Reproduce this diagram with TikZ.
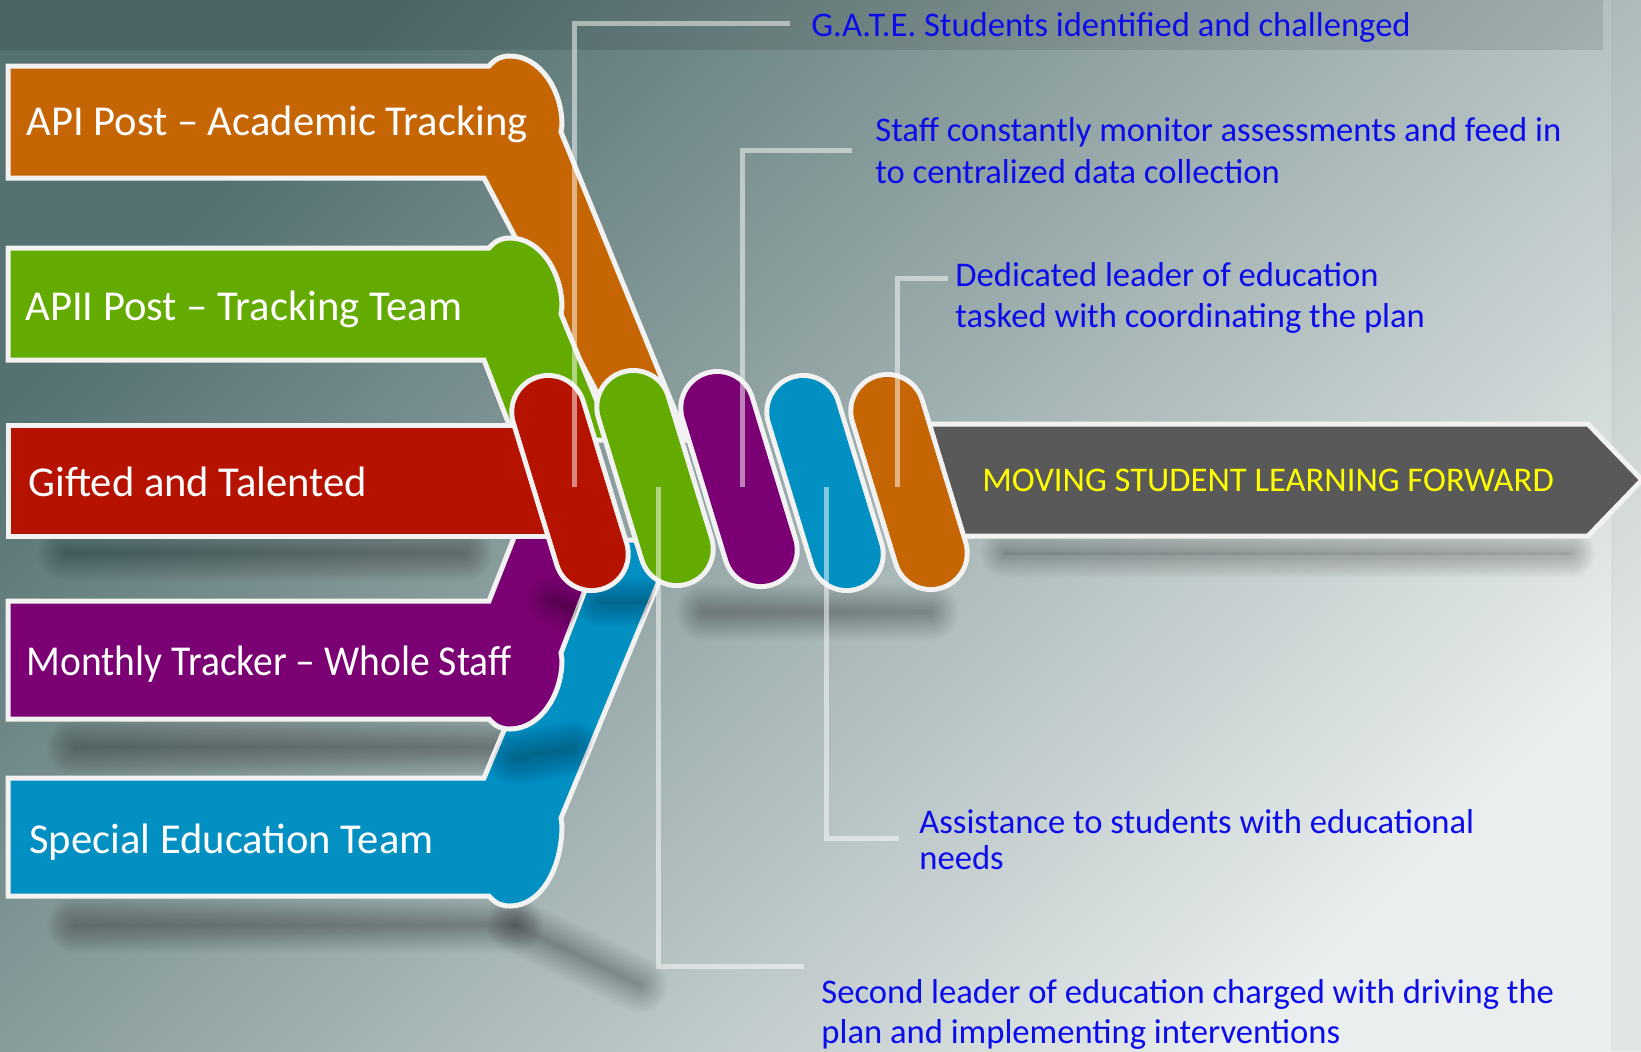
\documentclass[tikz,border=0pt]{standalone}
\usepackage{fontspec}
\usepackage{graphicx}
\setmainfont{Carlito}
\definecolor{cOrange}{RGB}{197,101,4}
\definecolor{cGreen}{RGB}{99,171,0}
\definecolor{cRed}{RGB}{181,18,0}
\definecolor{cPurple}{RGB}{123,0,115}
\definecolor{cBlue}{RGB}{2,143,194}
\definecolor{cArrow}{RGB}{89,89,89}
\definecolor{cCall}{RGB}{12,12,235}
\definecolor{cBorder}{RGB}{242,242,242}
\definecolor{cYellow}{RGB}{255,255,0}
\definecolor{bgA}{RGB}{84,112,112}
\definecolor{bgB}{RGB}{150,166,166}
\definecolor{bgC}{RGB}{234,238,238}
\newcommand\drawcapsule[4]{%
  \coordinate (#1t) at ({#2-21.7},{#3-71});
  \coordinate (#1b) at ({#2+21.7},{#3+71});
  \draw[cBorder, line width=39pt, line cap=round] (#1t) -- (#1b);
  \draw[#4, line width=34pt, line cap=round] (#1t) -- (#1b);
}
\newcommand\softline[5]{%
  \foreach \k in {0,...,17}{%
    \pgfmathsetmacro\lw{max(#5+30-\k*3.2,3)*0.5}
    \draw[black, opacity=0.015, line width=\lw pt, line cap=round] (#1,#2) -- (#3,#4);
  }}
\def\orangepath{(8,66) -- (489,66) .. controls (496,58) and (502,56) .. (510,56) .. controls (540,56) and (562,90) .. (562,125) -- (561,132) -- (687,440) -- (622,440) -- (484,178) -- (8,178) -- cycle}
\def\greenpath{(8,248) -- (489,248) .. controls (496,240) and (502,238) .. (510,238) .. controls (540,238) and (562,272) .. (562,307) -- (561,314) -- (613,440) -- (515,440) -- (484,360) -- (8,360) -- cycle}
\def\bluepath{(8,778) -- (484,778) -- (584,540) -- (676,540) -- (561,818) -- (562,825) .. controls (562,870) and (540,906) .. (510,906) .. controls (502,906) and (496,904) .. (489,896) -- (8,896) -- cycle}
\def\purplepath{(8,601) -- (489,601) -- (517,530) -- (608,530) -- (561,653) -- (562,660) .. controls (562,695) and (540,729) .. (510,729) .. controls (502,729) and (496,727) .. (489,719) -- (8,719) -- cycle}
\tikzset{
  ribbon/.style={fill=#1, draw=cBorder, line width=2.5pt},
  bartext/.style={anchor=base west, inner sep=0pt, text=white, font=\fontsize{21.3}{25}\selectfont},
  calltext/.style={anchor=base west, inner sep=0pt, text=cCall, font=\fontsize{17.3}{20}\selectfont},
  arrowtext/.style={anchor=base, inner sep=0pt, text=cYellow, font=\fontsize{17.3}{20}\selectfont},
  leader/.style={draw=white, draw opacity=0.5, line width=2.5pt},
}
\begin{document}
\begin{tikzpicture}[x=0.5pt,y=-0.5pt]
\useasboundingbox (0,0) rectangle (1641,1051);
% background
\shade[shading=axis, top color=bgA, middle color=bgB, bottom color=bgC, shading angle=45] (0,0) rectangle (1641,1051);
\fill[black, opacity=0.1] (0,0) rectangle (1603,50);
\fill[black, opacity=0.04] (1611,0) rectangle (1641,1051);
% shadows
\softline{65}{553}{465}{553}{26}
\softline{75}{747}{525}{747}{26}
\softline{75}{925}{515}{925}{26}
\softline{515}{925}{640}{985}{26}
\softline{1005}{553}{1570}{553}{20}
\softline{705}{612}{930}{612}{28}
% ribbons
\path[ribbon=cOrange] \orangepath;
\path[ribbon=cGreen] \greenpath;
\path[ribbon=cBlue] \bluepath;
\begin{scope}
  \clip \bluepath;
  \softline{515}{758}{572}{748}{26}
  \softline{600}{602}{650}{602}{20}
\end{scope}
\path[ribbon=cPurple] \purplepath;
\begin{scope}
  \clip \purplepath;
  \softline{552}{600}{580}{612}{22}
\end{scope}
\path[ribbon=cRed] (8,425) rectangle (565,536);
% arrow
\path[ribbon=cArrow] (905,424) -- (1588,424) -- (1642,480) -- (1588,536) -- (905,536) -- cycle;
% coil
\drawcapsule{cr}{570}{483}{cRed}
\drawcapsule{cg}{655}{478}{cGreen}
\drawcapsule{cp}{739}{479}{cPurple}
\drawcapsule{cb}{825}{483}{cBlue}
\drawcapsule{co}{909}{482}{cOrange}
% leader lines
\coordinate (gA) at (574,487); \coordinate (gB) at (574,23); \coordinate (gC) at (790,23);
\coordinate (sA) at (742,487); \coordinate (sB) at (742,150); \coordinate (sC) at (852,150);
\coordinate (dA) at (897,487); \coordinate (dB) at (897,278); \coordinate (dC) at (948,278);
\coordinate (aA) at (826,487); \coordinate (aB) at (826,838); \coordinate (aC) at (899,838);
\coordinate (lA) at (658,487); \coordinate (lB) at (658,966); \coordinate (lC) at (804,966);
\draw[leader] (gA) -- (gB) -- (gC);
\draw[leader] (sA) -- (sB) -- (sC);
\draw[leader] (dA) -- (dB) -- (dC);
\draw[leader] (aA) -- (aB) -- (aC);
\draw[leader] (lA) -- (lB) -- (lC);
% bar texts
\node[bartext] (t1) at (26,135) {API Post – Academic Tracking};
\node[bartext] (t2) at (25,320) {APII Post – Tracking Team};
\node[bartext] (t3) at (28,496) {Gifted and Talented};
\node[bartext] (t4) at (26,675) {\scalebox{0.928}[1]{Monthly Tracker – Whole Staff}};
\node[bartext] (t5) at (29,853) {Special Education Team};
% arrow text
\node[arrowtext] (mv) at (1268,491) {MOVING STUDENT LEARNING FORWARD};
% callouts
\node[calltext] (c1) at (811,36) {G.A.T.E. Students identified and challenged};
\node[calltext] (c2a) at (875,141) {Staff constantly monitor assessments and feed in};
\node[calltext] (c2b) at (875,183) {to centralized data collection};
\node[calltext] (c3a) at (955,286) {Dedicated leader of education};
\node[calltext] (c3b) at (955,327) {tasked with coordinating the plan};
\node[calltext] (c4a) at (919,833) {Assistance to students with educational};
\node[calltext] (c4b) at (919,869) {needs};
\node[calltext] (c5a) at (821,1003) {Second leader of education charged with driving the};
\node[calltext] (c5b) at (821,1043) {plan and implementing interventions};
\end{tikzpicture}
\end{document}
